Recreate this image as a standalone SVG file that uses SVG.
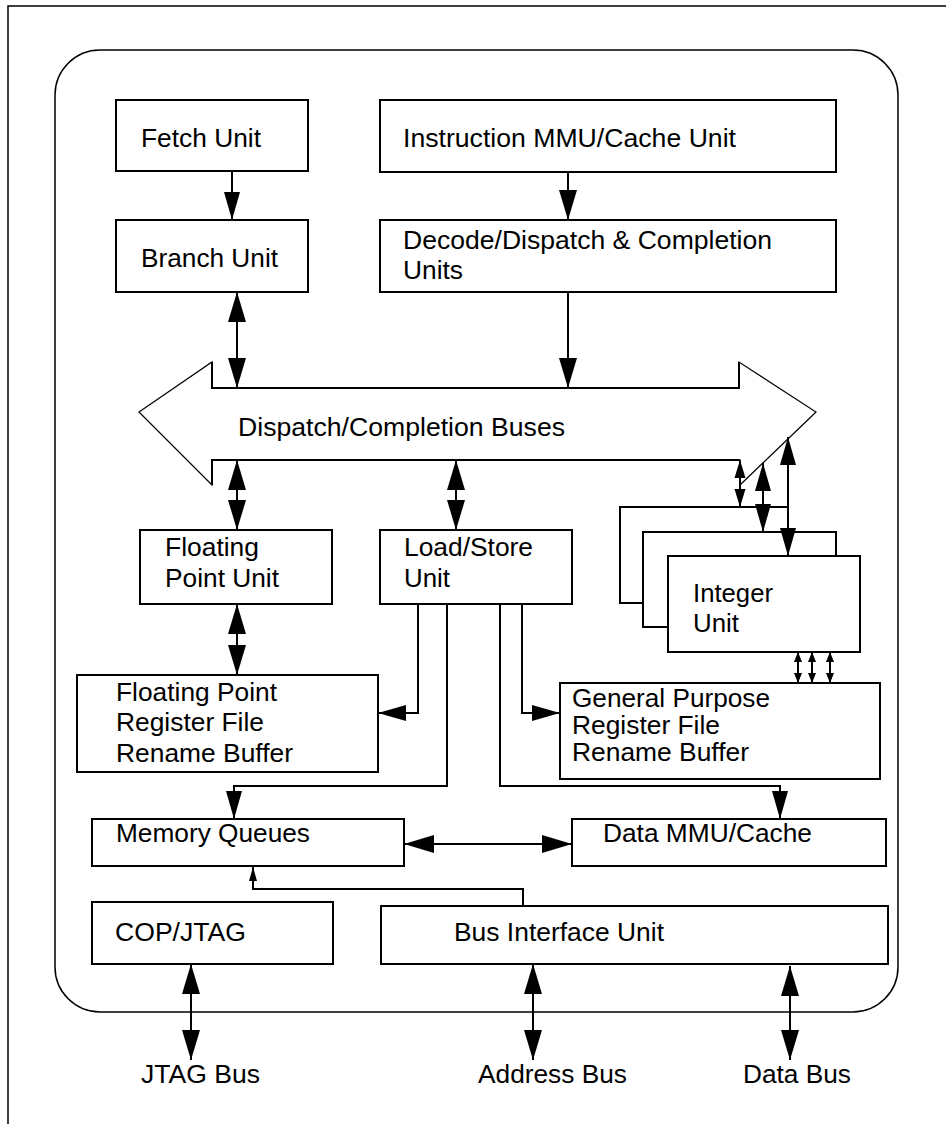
<svg xmlns="http://www.w3.org/2000/svg" width="946" height="1124" viewBox="0 0 946 1124">
<style>
.frame{fill:none;stroke:#000;stroke-width:1.5}
.box{fill:#fff;stroke:#000;stroke-width:2}
.lbl{font-family:"Liberation Sans",Arial,sans-serif;font-size:25px;fill:#000}
.c{fill:none;stroke:#000;stroke-width:2}
.bus{fill:#fff;stroke:#000;stroke-width:1.2}
.bar{fill:none;stroke:#000;stroke-width:2}
</style>
<defs>
<marker id="ah" markerUnits="userSpaceOnUse" markerWidth="30" markerHeight="20" refX="30" refY="10" orient="auto-start-reverse"><path d="M0,1 L30,10 L0,19 z" fill="#000"/></marker>
<marker id="ahs" markerUnits="userSpaceOnUse" markerWidth="18" markerHeight="12" refX="18" refY="6" orient="auto-start-reverse"><path d="M0,0.5 L18,6 L0,11.5 z" fill="#000"/></marker>
<marker id="ahm" markerUnits="userSpaceOnUse" markerWidth="28" markerHeight="18" refX="28" refY="9" orient="auto-start-reverse"><path d="M0,1 L28,9 L0,17 z" fill="#000"/></marker>
<marker id="aht" markerUnits="userSpaceOnUse" markerWidth="10" markerHeight="8" refX="10" refY="4" orient="auto-start-reverse"><path d="M0,0 L10,4 L0,8 z" fill="#000"/></marker>
<marker id="ahq" markerUnits="userSpaceOnUse" markerWidth="14" markerHeight="8" refX="14" refY="4" orient="auto-start-reverse"><path d="M0,0 L14,4 L0,8 z" fill="#000"/></marker>
</defs>

<g id="page-frame">
<path class="frame" d="M8,1124 L8,6 L946,6"/>
<rect class="frame" x="55" y="50" width="843" height="962" rx="45" ry="45"/>
</g>

<g id="dispatch-bus">
<polygon class="bus" points="139,412 212,362 212,388 739,388 739,362 816,412 740,485 740,460 212,460 212,485"/>
<path class="bar" d="M212,362 L212,388 L739,388 L739,362 M212,485 L212,460 L740,460"/>
<text class="lbl" x="238" y="436" textLength="327" lengthAdjust="spacingAndGlyphs">Dispatch/Completion Buses</text>
</g>

<g id="fetch-unit">
<rect class="box" x="116" y="100" width="192" height="71"/>
<text class="lbl" x="141" y="147" textLength="120" lengthAdjust="spacingAndGlyphs">Fetch Unit</text>
</g>
<g id="branch-unit">
<rect class="box" x="116" y="220" width="192" height="72"/>
<text class="lbl" x="141" y="267" textLength="137" lengthAdjust="spacingAndGlyphs">Branch Unit</text>
</g>
<g id="instruction-mmu">
<rect class="box" x="380" y="100" width="456" height="72"/>
<text class="lbl" x="403" y="147" textLength="333" lengthAdjust="spacingAndGlyphs">Instruction MMU/Cache Unit</text>
</g>
<g id="decode-dispatch">
<rect class="box" x="380" y="220" width="456" height="72"/>
<text class="lbl" x="403" y="249" textLength="369" lengthAdjust="spacingAndGlyphs">Decode/Dispatch &amp; Completion</text>
<text class="lbl" x="403" y="279" textLength="60" lengthAdjust="spacingAndGlyphs">Units</text>
</g>
<g id="fpu">
<rect class="box" x="140" y="530" width="192" height="74"/>
<text class="lbl" x="165" y="556" textLength="94" lengthAdjust="spacingAndGlyphs">Floating</text>
<text class="lbl" x="165" y="587" textLength="114" lengthAdjust="spacingAndGlyphs">Point Unit</text>
</g>
<g id="lsu">
<rect class="box" x="380" y="530" width="192" height="74"/>
<text class="lbl" x="404" y="556" textLength="129" lengthAdjust="spacingAndGlyphs">Load/Store</text>
<text class="lbl" x="404" y="587" textLength="46" lengthAdjust="spacingAndGlyphs">Unit</text>
</g>
<g id="integer-unit">
<rect class="box" x="620" y="507" width="168" height="96"/>
<rect class="box" x="643" y="532" width="193" height="95"/>
<rect class="box" x="668" y="556" width="192" height="96"/>
<text class="lbl" x="693" y="602" textLength="80" lengthAdjust="spacingAndGlyphs">Integer</text>
<text class="lbl" x="693" y="632" textLength="46" lengthAdjust="spacingAndGlyphs">Unit</text>
</g>
<g id="fp-register-file">
<rect class="box" x="77" y="675" width="301" height="97"/>
<text class="lbl" x="116" y="701" textLength="161" lengthAdjust="spacingAndGlyphs">Floating Point</text>
<text class="lbl" x="116" y="731" textLength="148" lengthAdjust="spacingAndGlyphs">Register File</text>
<text class="lbl" x="116" y="762" textLength="177" lengthAdjust="spacingAndGlyphs">Rename Buffer</text>
</g>
<g id="gp-register-file">
<rect class="box" x="560" y="683" width="320" height="96"/>
<text class="lbl" x="572" y="707" textLength="198" lengthAdjust="spacingAndGlyphs">General Purpose</text>
<text class="lbl" x="572" y="734" textLength="148" lengthAdjust="spacingAndGlyphs">Register File</text>
<text class="lbl" x="572" y="761" textLength="177" lengthAdjust="spacingAndGlyphs">Rename Buffer</text>
</g>
<g id="memory-queues">
<rect class="box" x="92" y="819" width="312" height="47"/>
<text class="lbl" x="116" y="842" textLength="194" lengthAdjust="spacingAndGlyphs">Memory Queues</text>
</g>
<g id="data-mmu">
<rect class="box" x="572" y="819" width="314" height="47"/>
<text class="lbl" x="603" y="842" textLength="209" lengthAdjust="spacingAndGlyphs">Data MMU/Cache</text>
</g>
<g id="cop-jtag">
<rect class="box" x="92" y="902" width="241" height="62"/>
<text class="lbl" x="115" y="941" textLength="131" lengthAdjust="spacingAndGlyphs">COP/JTAG</text>
</g>
<g id="bus-interface-unit">
<rect class="box" x="381" y="906" width="507" height="58"/>
<text class="lbl" x="454" y="941" textLength="210" lengthAdjust="spacingAndGlyphs">Bus Interface Unit</text>
</g>
<g id="external-labels">
<text class="lbl" x="141" y="1083" textLength="119" lengthAdjust="spacingAndGlyphs">JTAG Bus</text>
<text class="lbl" x="478" y="1083" textLength="149" lengthAdjust="spacingAndGlyphs">Address Bus</text>
<text class="lbl" x="743" y="1083" textLength="108" lengthAdjust="spacingAndGlyphs">Data Bus</text>
</g>

<g id="connectors">
<path class="c" d="M232,171 L232,220" marker-end="url(#ahm)"/>
<path class="c" d="M568,172 L568,220" marker-end="url(#ah)"/>
<path class="c" d="M237,292 L237,388" marker-start="url(#ah)" marker-end="url(#ah)"/>
<path class="c" d="M568,292 L568,388" marker-end="url(#ah)"/>
<path class="c" d="M237,460 L237,530" marker-start="url(#ah)" marker-end="url(#ah)"/>
<path class="c" d="M456,460 L456,530" marker-start="url(#ah)" marker-end="url(#ah)"/>
<path class="c" d="M740,460 L740,507" marker-start="url(#ahs)" marker-end="url(#ahs)"/>
<path class="c" d="M763,463 L763,532" marker-start="url(#ahm)" marker-end="url(#ahm)"/>
<path class="c" d="M788,437 L788,556" marker-start="url(#ahm)" marker-end="url(#ahm)"/>
<path class="c" d="M237,604 L237,675" marker-start="url(#ah)" marker-end="url(#ah)"/>
<path class="c" d="M418,604 L418,713 L378,713" marker-end="url(#ahm)"/>
<path class="c" d="M447,604 L447,786 L234,786 L234,819" marker-end="url(#ahm)"/>
<path class="c" d="M522,604 L522,713 L560,713" marker-end="url(#ahm)"/>
<path class="c" d="M500,604 L500,786 L780,786 L780,819" marker-end="url(#ahm)"/>
<path class="c" d="M798,652 L798,683" marker-start="url(#aht)" marker-end="url(#aht)"/>
<path class="c" d="M812,652 L812,683" marker-start="url(#aht)" marker-end="url(#aht)"/>
<path class="c" d="M830,652 L830,683" marker-start="url(#aht)" marker-end="url(#aht)"/>
<path class="c" d="M404,844 L572,844" marker-start="url(#ah)" marker-end="url(#ah)"/>
<path class="c" d="M523,906 L523,889 L253,889 L253,867" marker-end="url(#ahq)"/>
<path class="c" d="M191,964 L191,1060" marker-start="url(#ah)" marker-end="url(#ah)"/>
<path class="c" d="M533,964 L533,1060" marker-start="url(#ah)" marker-end="url(#ah)"/>
<path class="c" d="M790,966 L790,1060" marker-start="url(#ah)" marker-end="url(#ah)"/>
</g>
</svg>
